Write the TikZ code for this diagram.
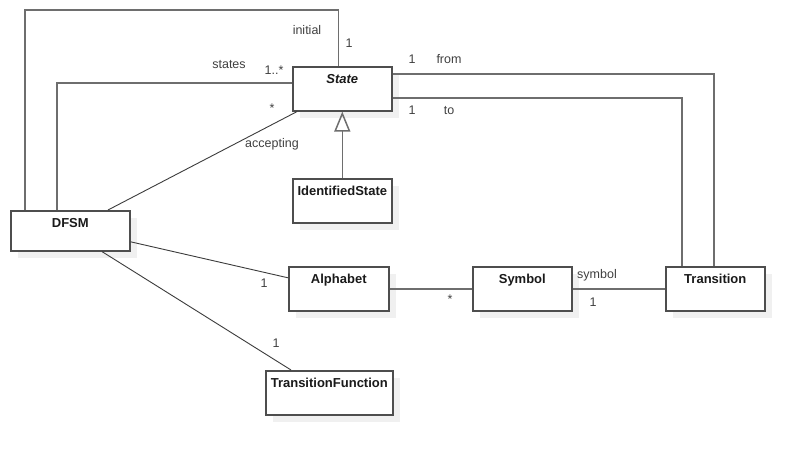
\documentclass[tikz,border=0pt]{standalone}
\usepackage{fontspec}
\setmainfont{Liberation Sans}
\usetikzlibrary{arrows.meta,shadows}

\definecolor{linegray}{HTML}{6E6E6E}
\definecolor{diaggray}{HTML}{3C3C3C}
\definecolor{boxgray}{HTML}{4E4E4E}
\definecolor{shadowgray}{HTML}{F0F0F0}
\definecolor{labelgray}{HTML}{404040}
\definecolor{namecol}{HTML}{1A1A1A}

\tikzset{
  umlclass/.style={draw=boxgray, line width=1.6pt, fill=white, text=namecol,
    font=\bfseries\fontsize{13}{15}\selectfont, anchor=north west, inner sep=0pt,
    minimum width=99pt, text height=17pt, text depth=27pt,
    general shadow={fill=shadowgray, shadow xshift=7pt, shadow yshift=-7pt}},
  assoc/.style={draw=linegray, line width=1.5pt},
  slant/.style={draw=diaggray, line width=0.9pt},
  role/.style={text=labelgray, font=\fontsize{12.5}{14}\selectfont, anchor=base, inner sep=0pt},
}

\begin{document}
\begin{tikzpicture}[x=1pt, y=-1pt]
    \useasboundingbox[fill=white] (0,0) rectangle (803,454);

    % 类
    \node[umlclass, font=\bfseries\itshape\fontsize{13}{15}\selectfont] (state) at (292,66) {State};
    \node[umlclass] (idstate) at (292,178) {IdentifiedState};
    \node[umlclass, minimum width=119pt, text depth=23pt] (dfsm) at (10,210) {DFSM};
    \node[umlclass, minimum width=100pt] (alphabet) at (288,266) {Alphabet};
    \node[umlclass, minimum width=127pt] (tf) at (265,370) {TransitionFunction};
    \node[umlclass] (symbol) at (472,266) {Symbol};
    \node[umlclass] (transition) at (665,266) {Transition};

    % DFSM 与 State 的关联
    \draw[assoc] ([xshift=15pt]dfsm.north west) |- ([xshift=-4pt, yshift=56pt]state.north) -- ([xshift=-4pt]state.north);
    \draw[assoc] ([xshift=47pt]dfsm.north west) |- ([yshift=6pt]state.west);
    \draw[slant] ([xshift=98pt]dfsm.north west) -- ([xshift=5pt]state.south west);

    % 继承
    \draw[assoc, -{Triangle[open, length=20pt, width=16pt]}] (idstate.north) -- (state.south);

    % Transition 与 State
    \draw[assoc] ([yshift=15pt]state.east) -| ([xshift=-1.5pt]transition.north);
    \draw[assoc] ([yshift=-9pt]state.east) -| ([xshift=-33.5pt]transition.north);

    % 其余关联
    \draw[slant] ([yshift=-11pt]dfsm.east) -- ([yshift=11pt]alphabet.west);
    \draw[slant] ([xshift=92pt]dfsm.south west) -- ([xshift=26pt]tf.north west);
    \draw[assoc] (alphabet.east) -- (symbol.west);
    \draw[assoc] (symbol.east) -- (transition.west);

    % 角色名与多重性
    \node[role] (initlbl) at (307,35) {initial};
    \node[role] (initmul) at (349,48) {1};
    \node[role] (stateslbl) at (229,69) {states};
    \node[role] (statesmul) at (274,75) {1..*};
    \node[role] (accmul) at (272,113) {*};
    \node[role] (acclbl) at (272,148) {accepting};
    \node[role] (frommul) at (412,64) {1};
    \node[role] (fromlbl) at (449,64) {from};
    \node[role] (tomul) at (412,115) {1};
    \node[role] (tolbl) at (449,115) {to};
    \node[role] (alphmul) at (264,288) {1};
    \node[role] (tfmul) at (276,347) {1};
    \node[role] (symmul) at (450,304) {*};
    \node[role] (symlbl) at (597,279) {symbol};
    \node[role] (transmul) at (593,306) {1};
\end{tikzpicture}
\end{document}
